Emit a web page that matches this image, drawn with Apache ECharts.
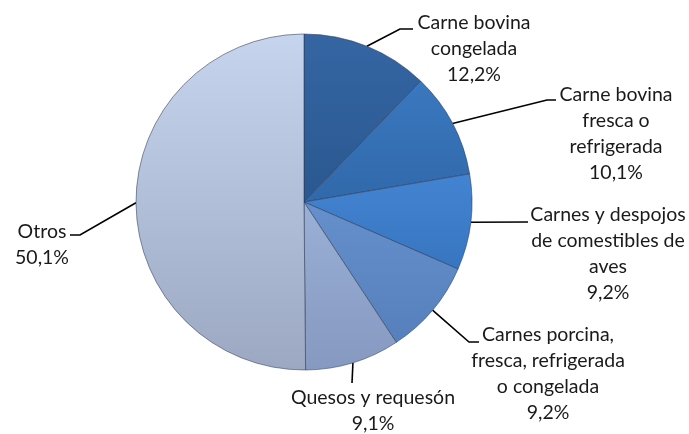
<!DOCTYPE html>
<html>
<head>
<meta charset="utf-8">
<script src="https://cdn.jsdelivr.net/npm/echarts@6/dist/echarts.min.js"></script>
<style>
  html, body { margin: 0; padding: 0; background: #ffffff; }
  #chart { width: 689px; height: 434px; }
</style>
</head>
<body>
<div id="chart"></div>
<script>
// datos
var categorias = [
  'Carne bovina\ncongelada',
  'Carne bovina\nfresca o\nrefrigerada',
  'Carnes y despojos\nde comestibles de\naves',
  'Carnes porcina,\nfresca, refrigerada\no congelada',
  'Quesos y requesón',
  'Otros'
];
var valores = [12.2, 10.1, 9.2, 9.2, 9.1, 50.1];

// colores (arriba / abajo de cada porción)
var coloresTop = ['#3566a3', '#3a78bf', '#4384d2', '#6690cb', '#9ab0d6', '#c6d5ed'];
var coloresBot = ['#2a5890', '#3169aa', '#3775bf', '#5680bb', '#8699c0', '#9ca8c2'];

// posición de etiquetas: [centro x, centro y de la 1a línea]
var posEtiqueta = [[474, 23], [616, 95], [608, 215], [548, 335], [373, 398], [42, 232]];
// guías: [codo, fin]
var guias = [
  [[400, 29], [413, 29]],
  [[547, 100], [556, 100]],
  [[528, 222], [528, 222]],
  [[469, 342], [479, 342]],
  [[352, 383], [352, 383]],
  [[80, 235], [70, 235]]
];

var LH = 26;
var chart = echarts.init(document.getElementById('chart'));

var datos = categorias.map(function (c, i) {
  return {
    name: c,
    value: valores[i],
    itemStyle: {
      color: {
        type: 'linear', x: 0, y: 0, x2: 0, y2: 1,
        colorStops: [
          { offset: 0, color: coloresTop[i] },
          { offset: 1, color: coloresBot[i] }
        ]
      }
    }
  };
});

chart.setOption({
  animation: false,
  series: [{
    type: 'pie',
    center: [304, 202],
    radius: 168,
    startAngle: 90,
    clockwise: true,
    data: datos,
    itemStyle: {
      borderColor: 'rgba(40,55,85,0.55)',
      borderWidth: 1
    },
    label: {
      show: true,
      position: 'outside',
      fontFamily: 'Lato',
      fontSize: 19.5,
      lineHeight: LH,
      color: '#1a1a1a',
      align: 'center',
      formatter: function (p) {
        return p.name + '\n' + p.value.toFixed(1).replace('.', ',') + '%';
      }
    },
    labelLine: {
      show: true,
      length: 10,
      length2: 10,
      lineStyle: { color: '#000000', width: 1.6 }
    },
    labelLayout: function (params) {
      var i = params.dataIndex;
      var pos = posEtiqueta[i];
      var p0 = params.labelLinePoints ? params.labelLinePoints[0] : guias[i][0];
      return {
        x: pos[0],
        y: pos[1] - LH / 2,
        align: 'center',
        verticalAlign: 'top',
        labelLinePoints: [p0, guias[i][0], guias[i][1]]
      };
    }
  }]
});
</script>
</body>
</html>
